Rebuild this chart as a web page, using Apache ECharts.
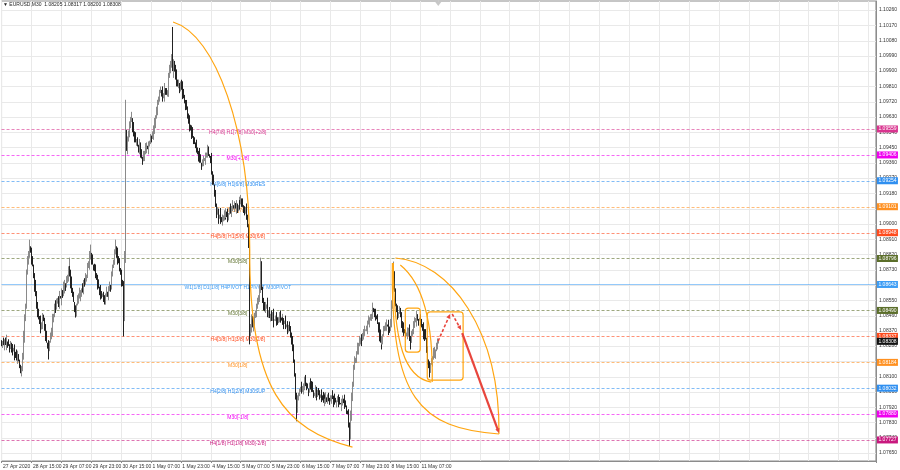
<!DOCTYPE html>
<html><head><meta charset="utf-8">
<script src="https://cdn.jsdelivr.net/npm/echarts@6/dist/echarts.min.js"></script>
<style>html,body{margin:0;padding:0;background:#fff}#c{width:900px;height:470px}</style>
</head><body><div id="c"></div>
<script>
// ---------- data ----------
const titleText = '\u25BC EURUSD,M30  1.08205 1.08317 1.08200 1.08308';
const tickLabels = ['27 Apr 2020','28 Apr 15:00','29 Apr 07:00','29 Apr 23:00','30 Apr 15:00','1 May 07:00','1 May 23:00','4 May 15:00','5 May 07:00','5 May 23:00','6 May 15:00','7 May 07:00','7 May 23:00','8 May 15:00','11 May 07:00'];
const barsPerTick = 32;
const totalSlots = 936;
const yTicks = [1.07650,1.07740,1.07830,1.07920,1.08010,1.08100,1.08190,1.08280,1.08370,1.08460,1.08550,1.08640,1.08730,1.08820,1.08910,1.09000,1.09090,1.09180,1.09270,1.09360,1.09450,1.09540,1.09630,1.09720,1.09810,1.09900,1.09990,1.10080,1.10170,1.10260];
const yMin = 1.07603, yMax = 1.10313;

// prices in points above 1.07000 (1 point = 0.00001)
const firstOpen = 1295;
const closePts = [
1289,1300,1285,1310,1296,1307,1290,1281,1272,1290,1262,1255,1248,1270,1236,1230,1205,1213,1190,1170,
1120,1142,1230,1340,1437,1520,1650,1731,1770,1820,1848,1830,1790,1760,1700,1640,1584,1530,1470,1437,
1420,1395,1378,1410,1445,1437,1390,1340,1300,1285,1260,1300,1340,1378,1430,1470,1495,1520,1505,1540,
1554,1530,1575,1560,1600,1584,1620,1640,1625,1672,1700,1720,1742,1700,1650,1613,1580,1540,1500,1484,
1520,1550,1570,1584,1600,1620,1605,1643,1660,1650,1690,1701,1740,1770,1800,1819,1790,1760,1745,1731,
1700,1680,1660,1643,1620,1600,1584,1570,1590,1560,1554,1580,1600,1590,1613,1630,1620,1643,1700,1750,
1789,1820,1848,1820,1800,1778,1740,1700,1660,1643,1437,1800,2142,2554,2450,2495,2540,2584,2600,2613,
2570,2525,2500,2480,2490,2466,2450,2470,2436,2410,2395,2389,2410,2420,2436,2450,2440,2466,2490,2510,
2500,2525,2550,2570,2584,2630,2670,2701,2740,2770,2789,2770,2750,2760,2800,2780,2760,2778,2820,2870,
2907,2950,2980,2900,2950,2907,2870,2840,2819,2830,2800,2819,2790,2800,2775,2760,2720,2700,2672,2640,
2610,2584,2560,2530,2507,2490,2480,2466,2450,2430,2420,2407,2380,2360,2348,2360,2370,2378,2400,2420,
2436,2410,2390,2378,2340,2300,2260,2231,2180,2110,2054,2070,2040,2054,2030,2010,2025,2050,2060,2045,
2072,2060,2040,2054,2080,2070,2095,2110,2100,2113,2090,2100,2084,2110,2130,2125,2150,2120,2100,2084,
2070,2090,2054,1980,1878,1348,1400,1437,1410,1378,1420,1466,1490,1510,1525,1570,1613,1760,1620,1554,
1520,1495,1510,1525,1490,1466,1480,1455,1470,1448,1460,1430,1437,1450,1430,1425,1440,1460,1448,1430,
1440,1425,1410,1420,1400,1407,1390,1395,1378,1350,1319,1260,1201,1100,995,940,907,960,995,1010,
1040,1020,1025,1050,1070,1054,1040,1030,1025,1045,1060,1054,1030,1010,995,1005,1020,1000,1013,1000,
985,995,980,970,966,985,970,978,960,975,965,954,970,990,978,960,955,948,960,975,
966,950,945,937,950,960,954,940,920,900,878,820,760,880,966,1060,1142,1170,1190,1201,
1230,1260,1289,1310,1330,1320,1348,1360,1370,1378,1390,1400,1407,1420,1440,1448,1470,1495,1480,1470,
1460,1448,1410,1380,1348,1310,1289,1320,1350,1378,1390,1400,1407,1395,1385,1378,1420,1520,1613,1701,
1620,1554,1520,1490,1466,1480,1495,1450,1407,1390,1370,1355,1348,1360,1370,1378,1350,1330,1319,1350,
1380,1407,1420,1435,1448,1440,1430,1437,1420,1400,1390,1378,1360,1340,1319,1260,1201,1160,1142,1170,
1189,1210,1230,1245,1260,1280,1295,1308
];
// wick lengths per bar, one digit per bar, in units of 10 points
const upWick = '2131240312 1320213421 0213312042 1232013213 2401321230 3121402132 1230214312 0321341202 1324103212 2031421302 3120314201 2130231421 0312412031 2413021230 1324120312 3021431202 1230412312 2041302132 3120213412 0231420132 1302412031 2143023120 3201421302 1320413021 2031241302 1420312031 2130241320 3102413021 1230421302 2401321230 3121402132 1230214312 0321341202 1324103212 2031421302 3120314201 2130231421 0312412031 2413021230 1324120312 3021431202 1230412312 2041302132 3120213412 0231420132 1302412031 2143023120';
const downWick = '1203142031 2310421302 0213412031 2031241320 1420312302 3102412031 1230421320 2401321023 3021431202 1320413021 2143023102 0312412031 1302412031 2130241320 3120213412 1324120312 2031421302 0231420132 1230412312 3201421302 2413021230 1420312031 3102413021 2041302132 1232013213 0321341202 2130231421 1324103212 3121402132 2401321230 1230214312 3120314201 0213312042 1320213421 2131240312 1203142031 2310421302 0213412031 2031241320 1420312302 3102412031 1230421320 2401321023 3021431202 1320413021 2143023102 0312412031';
const highSpikes = [[30,1907],[72,1801],[95,1878],[122,1907],[132,2400],[133,2731],[139,2660],[183,3160],[277,1801],[397,1536],[419,1778]];
const lowSpikes = [[21,1101],[50,1201],[79,1448],[110,1525],[130,1337],[151,2348],[265,1290],[316,837],[372,690],[406,1260],[438,1260],[458,1095]];
const lastPrice = 1.08308;

// Murrey levels
const levelPrices = [1.09559,1.09406,1.09254,1.09101,1.08948,1.08796,1.08643,1.08490,1.08337,1.08184,1.08032,1.07880,1.07727];
const levelNames = ['H4[7/8] H1[7/8] M30[+2/8]','M30[+1/8]','H4[6/8] H1[6/8] M30RES','M30[7/8]','H4[5/8] H1[5/8] M30[6/8]','M30[5/8]','W1[1/8] D1[1/8] H4PIVOT H1PIVOT M30PIVOT','M30[3/8]','H4[3/8] H1[3/8] M30[2/8]','M30[1/8]','H4[2/8] H1[2/8] M30SUP','M30[-1/8]','H4[1/8] H1[1/8] M30[-2/8]'];
const levelColors = ['#d9348f','#f000f0','#2f8ff0','#ff9020','#ff4a1c','#5b6e2a','#3d9df5','#5b6e2a','#ff4a1c','#ff9020','#2f8ff0','#f000f0','#c8187e'];
const levelSolid = [0,0,0,0,0,0,1,0,0,0,0,0,0];
const levelLabelBar = 252.4;

// drawing objects, in (bar index, price)
const arcCurves = [
  [[183.1,1.10189],[228.9,1.10113],[265.2,1.09553],[265.2,1.08846]],
  [[265.2,1.08846],[264.2,1.08021],[303.7,1.07786],[375.2,1.07685]],
  [[421.1,1.08799],[479.7,1.08775],[533.1,1.08375],[532.0,1.07762]],
  [[417.9,1.08769],[415.7,1.07962],[447.7,1.07797],[532.0,1.07762]],
  [[418.9,1.08769],[418.9,1.08286],[431.7,1.08092],[459.5,1.08068]],
  [[426.4,1.08758],[453.1,1.08640],[461.6,1.08375],[460.5,1.08068]]
];
const boxes = [
  [[431.7,1.08504],[447.7,1.08245]],
  [[455.2,1.08481],[493.6,1.08080]]
];
const arrowFrom = [[466.9,1.08310],[481.9,1.08469],[492.6,1.08357]];
const arrowTo   = [[479.7,1.08469],[491.5,1.08375],[532.0,1.07768]];
const arrowDashed = [1,1,0];

// ---------- build ----------
const FONT = 'Liberation Sans';
const up = upWick.replace(/\s/g,''), dn = downWick.replace(/\s/g,'');
const hiMap = Object.fromEntries(highSpikes), loMap = Object.fromEntries(lowSpikes);
const candles = closePts.map((c, i) => {
  const o = i ? closePts[i - 1] : firstOpen;
  let h = Math.max(o, c) + 10 * (+(up[i] || 1));
  let l = Math.min(o, c) - 10 * (+(dn[i] || 1));
  if (hiMap[i] != null) h = hiMap[i];
  if (loMap[i] != null) l = loMap[i];
  return [o, c, l, h].map(v => +(1.07 + v / 1e5).toFixed(5));
});
const cats = Array.from({length: totalSlots}, (_, i) => String(i));

function pt(api, i, p) {
  const i0 = Math.floor(i), f = i - i0;
  const a = api.coord([i0, p]), b = api.coord([i0 + 1, p]);
  return [a[0] + (b[0] - a[0]) * f, a[1]];
}
function hexA(hex, a) {
  const n = parseInt(hex.slice(1), 16);
  return 'rgba(' + (n >> 16 & 255) + ',' + (n >> 8 & 255) + ',' + (n & 255) + ',' + a + ')';
}

function renderBg(params, api) {
  const cs = params.coordSys, ch = [];
  yTicks.forEach(v => {
    const y = Math.round(api.coord([0, v])[1]) + 0.5;
    ch.push({type: 'line', shape: {x1: cs.x, y1: y, x2: cs.x + cs.width, y2: y}, style: {stroke: '#e9e9e9', lineWidth: 1}});
  });
  levelPrices.forEach((v, k) => {
    const y = Math.round(api.coord([0, v])[1]) + 0.5;
    ch.push({type: 'line', shape: {x1: cs.x, y1: y, x2: cs.x + cs.width, y2: y},
      style: {stroke: hexA(levelColors[k], levelSolid[k] ? 0.55 : 0.6), lineWidth: 1, lineDash: levelSolid[k] ? null : [3, 2]}});
    const p = pt(api, levelLabelBar, v);
    ch.push({type: 'text', x: p[0], y: y + 0.5,
      style: {text: levelNames[k], fill: levelColors[k], fontSize: 5, fontFamily: FONT, align: 'center', verticalAlign: 'top'}});
  });
  return {type: 'group', children: ch};
}

function arrowHead(x1, y1, x2, y2, s, color) {
  const a = Math.atan2(y2 - y1, x2 - x1);
  return {type: 'polygon', shape: {points: [[x2, y2],
    [x2 - s * Math.cos(a - 0.45), y2 - s * Math.sin(a - 0.45)],
    [x2 - s * Math.cos(a + 0.45), y2 - s * Math.sin(a + 0.45)]]}, style: {fill: color, stroke: null}};
}

function renderFg(params, api) {
  const cs = params.coordSys, ch = [];
  const ORANGE = '#ffa510', RED = '#e8453c';
  arcCurves.forEach(c => {
    const P = c.map(q => pt(api, q[0], q[1]));
    ch.push({type: 'bezierCurve', shape: {x1: P[0][0], y1: P[0][1], cpx1: P[1][0], cpy1: P[1][1], cpx2: P[2][0], cpy2: P[2][1], x2: P[3][0], y2: P[3][1]},
      style: {stroke: ORANGE, lineWidth: 1.2, fill: 'none'}});
  });
  boxes.forEach(b => {
    const a = pt(api, b[0][0], b[0][1]), c = pt(api, b[1][0], b[1][1]);
    ch.push({type: 'rect', shape: {x: a[0], y: a[1], width: c[0] - a[0], height: c[1] - a[1], r: 3},
      style: {stroke: ORANGE, lineWidth: 1.2, fill: 'none'}});
  });
  arrowFrom.forEach((f, k) => {
    const a = pt(api, f[0], f[1]), b = pt(api, arrowTo[k][0], arrowTo[k][1]);
    const d = arrowDashed[k];
    const ang = Math.atan2(b[1] - a[1], b[0] - a[0]);
    const bx = b[0] - 3 * Math.cos(ang), by = b[1] - 3 * Math.sin(ang);
    ch.push({type: 'line', shape: {x1: a[0], y1: a[1], x2: bx, y2: by},
      style: {stroke: RED, lineWidth: d ? 1.6 : 2.2, lineDash: d ? [3, 2] : null}});
    ch.push(arrowHead(a[0], a[1], b[0], b[1], 5, RED));
  });
  // right-side price tags
  const tagX = cs.x + cs.width + 1, tagW = 21, tagH = 7;
  const tag = (v, color) => {
    const y = api.coord([0, v])[1];
    ch.push({type: 'rect', shape: {x: tagX, y: y - tagH / 2, width: tagW, height: tagH}, style: {fill: color}});
    ch.push({type: 'text', x: tagX + 1.5, y: y, style: {text: v.toFixed(5), fill: '#fff', fontSize: 5, fontFamily: FONT, align: 'left', verticalAlign: 'middle'}});
  };
  levelPrices.forEach((v, k) => tag(v, levelColors[k]));
  tag(lastPrice, '#111');
  // chart shift marker
  const sx = pt(api, closePts.length - 1, yMax)[0];
  ch.push({type: 'polygon', shape: {points: [[sx - 3, cs.y + 1], [sx + 3, cs.y + 1], [sx, cs.y + 5]]}, style: {fill: '#c8c8c8'}});
  return {type: 'group', children: ch};
}

const isTick = i => i % barsPerTick === 0 && i / barsPerTick < tickLabels.length;

const chart = echarts.init(document.getElementById('c'), null, {renderer: 'canvas'});
chart.setOption({
  animation: false,
  backgroundColor: '#ffffff',
  title: {text: titleText, left: 3, top: 2, padding: 0,
    textStyle: {fontSize: 5, fontWeight: 'normal', color: '#222', fontFamily: FONT}},
  grid: {left: 0, right: 23, top: 1, bottom: 9, show: true, borderColor: '#8c8c8c', borderWidth: 1, backgroundColor: '#fff'},
  xAxis: {
    type: 'category', data: cats, boundaryGap: true,
    axisLine: {show: true, lineStyle: {color: '#8c8c8c'}},
    axisTick: {show: true, interval: isTick, length: 2, lineStyle: {color: '#8c8c8c'}},
    axisLabel: {interval: isTick, formatter: (v, i) => tickLabels[Math.round(+v / barsPerTick)] || '',
      align: 'left', fontSize: 5, color: '#333', margin: 3, fontFamily: FONT, padding: [0, 0, 0, 1]},
    splitLine: {show: true, interval: i => i % barsPerTick === 0, lineStyle: {color: '#e9e9e9', width: 1}}
  },
  yAxis: {
    type: 'value', position: 'right', min: yMin, max: yMax,
    axisLine: {show: true, lineStyle: {color: '#8c8c8c'}},
    axisTick: {show: false},
    axisLabel: {customValues: yTicks, formatter: v => v.toFixed(5), fontSize: 5, color: '#333', margin: 3, fontFamily: FONT},
    splitLine: {show: false}
  },
  series: [
    {type: 'custom', name: 'levels', z: 1, silent: true, renderItem: renderBg, data: [[0, 1.09]]},
    {type: 'candlestick', name: 'EURUSD', z: 5, data: candles, barWidth: 1,
      itemStyle: {color: '#8a8a8a', color0: '#222222', borderColor: '#8a8a8a', borderColor0: '#222222', borderWidth: 1}},
    {type: 'custom', name: 'drawings', z: 10, silent: true, renderItem: renderFg, data: [[0, 1.09]]}
  ]
});
</script>
</body></html>
